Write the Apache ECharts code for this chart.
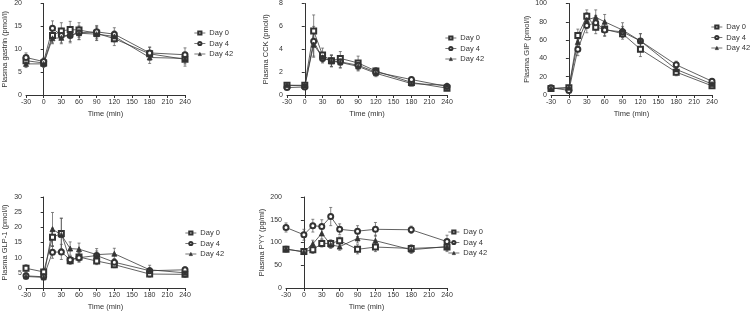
<!DOCTYPE html>
<html>
<head>
<meta charset="utf-8">
<script src="https://cdn.jsdelivr.net/npm/echarts@6/dist/echarts.min.js"></script>
<style>
  html, body {margin: 0; padding: 0; background: #fff;}
  #chart {width: 750px; height: 312px;}
</style>
</head>
<body>
<div id="chart"></div>
<script>
const times = [-30, 0, 15, 30, 45, 60, 90, 120, 180, 240];
const days = ['Day 0', 'Day 4', 'Day 42'];

const gastrin0 = [7.5, 7.0, 13.0, 14.0, 14.3, 14.2, 13.5, 12.3, 9.0, 7.8];
const gastrin4 = [8.2, 7.3, 14.6, 13.0, 13.0, 13.6, 13.8, 13.3, 9.2, 8.8];
const gastrin42 = [6.8, 6.8, 12.4, 12.5, 13.2, 13.5, 13.3, 12.8, 8.2, 8.0];
const gastrinErr0 = [1.0, 0.8, 1.6, 1.8, 1.8, 1.6, 1.5, 1.5, 1.4, 1.5];
const gastrinErr4 = [1.0, 0.8, 1.6, 1.6, 1.6, 1.5, 1.4, 1.4, 1.3, 1.5];
const gastrinErr42 = [0.8, 0.8, 1.2, 1.3, 1.5, 1.4, 1.4, 1.2, 1.3, 1.2];

const cck0 = [0.85, 0.85, 5.6, 3.5, 3.0, 3.2, 2.8, 2.1, 1.1, 0.6];
const cck4 = [0.65, 0.7, 4.7, 3.2, 3.0, 2.9, 2.6, 2.0, 1.35, 0.75];
const cck42 = [0.85, 0.8, 4.4, 3.3, 2.95, 2.85, 2.5, 1.9, 1.0, 0.85];
const cckErr0 = [0.15, 0.15, 1.4, 0.6, 0.5, 0.6, 0.6, 0.3, 0.2, 0.15];
const cckErr4 = [0.15, 0.15, 1.3, 0.4, 0.5, 0.5, 0.4, 0.3, 0.2, 0.15];
const cckErr42 = [0.15, 0.15, 1.1, 0.4, 0.5, 0.5, 0.4, 0.3, 0.2, 0.15];

const gip0 = [7, 8, 65, 86, 74, 72, 67, 50, 25, 10];
const gip4 = [8, 5, 50, 76, 79, 71, 69, 59, 33, 15];
const gip42 = [7, 8, 58, 82, 85, 80, 71, 59, 28, 12];
const gipErr0 = [2, 2, 7, 7, 7, 7, 6, 8, 4, 2];
const gipErr4 = [2, 2, 7, 8, 8, 7, 6, 8, 4, 2];
const gipErr42 = [2, 2, 7, 8, 8, 8, 8, 8, 5, 2];

const glp0 = [6.5, 5.3, 16.7, 18.0, 9.0, 10.2, 8.9, 7.7, 4.6, 4.5];
const glp4 = [4.0, 3.7, 11.8, 11.9, 9.3, 10.0, 10.7, 8.5, 5.7, 6.0];
const glp42 = [3.8, 3.5, 19.4, 17.5, 13.0, 12.8, 11.0, 11.3, 6.0, 5.0];
const glpErr0 = [1.2, 1.0, 3.0, 5.0, 1.2, 1.5, 1.2, 1.0, 1.0, 1.0];
const glpErr4 = [1.0, 0.8, 2.0, 2.5, 1.2, 1.5, 1.5, 1.2, 1.0, 1.0];
const glpErr42 = [1.0, 0.8, 5.5, 5.5, 2.2, 2.0, 2.0, 1.8, 1.5, 1.0];

const pyy0 = [85, 80, 84, 98, 98, 104, 85, 90, 87, 90];
const pyy4 = [133, 117, 137, 135, 157, 129, 125, 129, 128, 102];
const pyy42 = [86, 79, 97, 120, 95, 91, 109, 104, 84, 91];
const pyyErr0 = [6, 5, 8, 8, 8, 8, 10, 10, 8, 10];
const pyyErr4 = [10, 12, 14, 15, 20, 12, 12, 15, 8, 14];
const pyyErr42 = [6, 5, 8, 12, 8, 8, 10, 12, 8, 8];

const panels = [
  {name: 'Plasma gastrin (pmol/l)', max: 20, step: 5, vals: [gastrin0, gastrin4, gastrin42], errs: [gastrinErr0, gastrinErr4, gastrinErr42],
    grid: {left: 23, top: 2, width: 162, height: 93}, legend: {left: 194, top: 29}},
  {name: 'Plasma CCK (pmol/l)', max: 8, step: 2, vals: [cck0, cck4, cck42], errs: [cckErr0, cckErr4, cckErr42],
    grid: {left: 287, top: 2, width: 160, height: 93}, legend: {left: 445, top: 34}},
  {name: 'Plasma GIP (pmol/l)', max: 100, step: 20, vals: [gip0, gip4, gip42], errs: [gipErr0, gipErr4, gipErr42],
    grid: {left: 551, top: 3, width: 161, height: 92}, legend: {left: 711, top: 23}},
  {name: 'Plasma GLP-1 (pmol/l)', max: 30, step: 5, vals: [glp0, glp4, glp42], errs: [glpErr0, glpErr4, glpErr42],
    grid: {left: 23, top: 197, width: 162, height: 93}, legend: {left: 185, top: 229}},
  {name: 'Plasma PYY (pg/ml)', max: 200, step: 50, vals: [pyy0, pyy4, pyy42], errs: [pyyErr0, pyyErr4, pyyErr42],
    grid: {left: 286, top: 197, width: 161, height: 93}, legend: {left: 448, top: 228}},
];

const symbols = ['emptyRect', 'emptyCircle', 'triangle'];
const ink = '#333';
const font = 'Liberation Sans, Arial, sans-serif';

const grids = [], xAxes = [], yAxes = [], legends = [], series = [];
panels.forEach((p, i) => {
  grids.push(p.grid);
  xAxes.push({
    type: 'value', gridIndex: i, min: -30, max: 240, interval: 30,
    name: 'Time (min)', nameLocation: 'middle', nameGap: 15,
    nameTextStyle: {fontSize: 7.5, color: ink, fontFamily: font},
    axisLine: {lineStyle: {color: ink, width: 1}},
    axisTick: {length: 3, lineStyle: {color: ink}},
    axisLabel: {fontSize: 7, color: ink, margin: 4, fontFamily: font},
    splitLine: {show: false}
  });
  yAxes.push({
    type: 'value', gridIndex: i, min: 0, max: p.max, interval: p.step,
    name: p.name, nameLocation: 'middle', nameGap: 17, nameRotate: 90,
    nameTextStyle: {fontSize: 7.5, color: ink, fontFamily: font},
    axisLine: {show: true, lineStyle: {color: ink, width: 1}},
    axisTick: {show: true, length: 3, lineStyle: {color: ink}},
    axisLabel: {fontSize: 7, color: ink, margin: 4, fontFamily: font},
    splitLine: {show: false}
  });
  legends.push({
    orient: 'vertical', left: p.legend.left, top: p.legend.top, padding: 0,
    data: days, itemWidth: 11, itemHeight: 4, itemGap: 2.5,
    itemStyle: {borderWidth: 0.7},
    lineStyle: {width: 0.7},
    textStyle: {fontSize: 7.5, color: ink, fontFamily: font, padding: [0, 0, 0, -1]},
    selectedMode: false
  });
  days.forEach((d, k) => {
    series.push({
      name: d, type: 'line', xAxisIndex: i, yAxisIndex: i,
      data: times.map((t, j) => [t, p.vals[k][j]]),
      symbol: symbols[k], symbolSize: 5,
      lineStyle: {color: '#3a3a3a', width: 0.8},
      itemStyle: {color: ink, borderColor: ink, borderWidth: 0.8},
      z: 3, animation: false
    });
    series.push({
      name: d + ' err', type: 'custom', xAxisIndex: i, yAxisIndex: i,
      data: times.map((t, j) => [t, p.vals[k][j] - p.errs[k][j], p.vals[k][j] + p.errs[k][j]]),
      renderItem: (params, api) => {
        const lo = api.coord([api.value(0), api.value(1)]);
        const hi = api.coord([api.value(0), api.value(2)]);
        const st = {stroke: '#555', lineWidth: 0.7};
        return {
          type: 'group',
          children: [
            {type: 'line', shape: {x1: lo[0], y1: lo[1], x2: hi[0], y2: hi[1]}, style: st},
            {type: 'line', shape: {x1: hi[0] - 1.5, y1: hi[1], x2: hi[0] + 1.5, y2: hi[1]}, style: st},
            {type: 'line', shape: {x1: lo[0] - 1.5, y1: lo[1], x2: lo[0] + 1.5, y2: lo[1]}, style: st}
          ]
        };
      },
      z: 2, animation: false
    });
  });
});

const chart = echarts.init(document.getElementById('chart'));
chart.setOption({
  backgroundColor: '#fff',
  animation: false,
  grid: grids,
  xAxis: xAxes,
  yAxis: yAxes,
  legend: legends,
  series: series
});
</script>
</body>
</html>
